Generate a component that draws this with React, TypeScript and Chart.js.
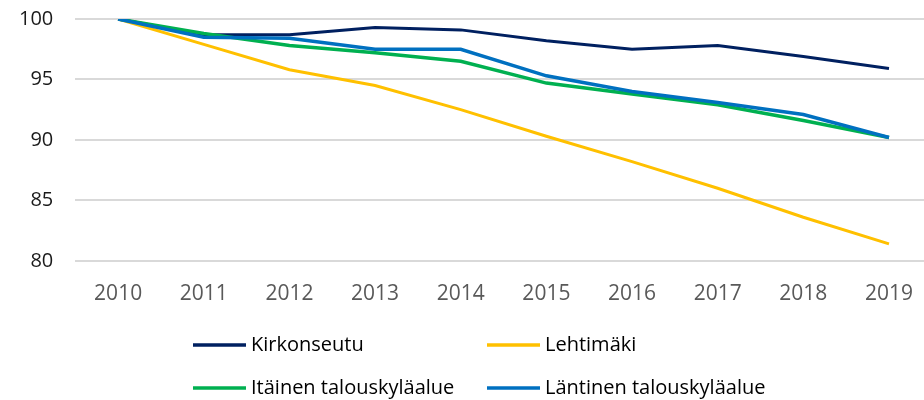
import React, { useEffect, useRef } from "react";
import { Chart, registerables } from "chart.js";

Chart.register(...registerables);

const years = ["2010", "2011", "2012", "2013", "2014", "2015", "2016", "2017", "2018", "2019"];
const kirkonseutu = [100, 98.7, 98.7, 99.3, 99.1, 98.2, 97.5, 97.8, 96.9, 95.9];
const lehtimaki = [100, 97.9, 95.8, 94.5, 92.5, 90.3, 88.2, 86.0, 83.6, 81.4];
const itainen = [100, 98.8, 97.8, 97.2, 96.5, 94.7, 93.8, 92.9, 91.6, 90.2];
const lantinen = [100, 98.5, 98.4, 97.5, 97.5, 95.3, 94.0, 93.1, 92.1, 90.2];
const yTicks = [80, 85, 90, 95, 100];

const seriesNames = ["Kirkonseutu", "Lehtimäki", "Itäinen talouskyläalue", "Läntinen talouskyläalue"];
const seriesColors = ["#002060", "#FFC000", "#00B050", "#0070C0"];
const seriesWidths = [3, 3, 3.5, 3.5];

const FONT = "'Open Sans', sans-serif";

const gridLegend = {
  id: "gridLegend",
  afterDraw(chart: any) {
    const ctx = chart.ctx;
    const cols = [193, 487];
    const rows = [345, 388];
    ctx.save();
    ctx.font = `20px ${FONT}`;
    ctx.textBaseline = "middle";
    ctx.textAlign = "left";
    seriesNames.forEach((name, i) => {
      const x = cols[i % 2];
      const y = rows[Math.floor(i / 2)];
      ctx.strokeStyle = seriesColors[i];
      ctx.lineWidth = 3.5;
      ctx.beginPath();
      ctx.moveTo(x, y);
      ctx.lineTo(x + 53, y);
      ctx.stroke();
      ctx.fillStyle = "#000000";
      ctx.fillText(name, x + 58, y);
    });
    ctx.restore();
  },
};

export default function App() {
  const ref = useRef<HTMLCanvasElement | null>(null);
  useEffect(() => {
    if (!ref.current) return;
    const data = [kirkonseutu, lehtimaki, itainen, lantinen];
    const chart = new Chart(ref.current, {
      type: "line",
      data: {
        labels: years,
        datasets: data.map((d, i) => ({
          label: seriesNames[i],
          data: d,
          borderColor: seriesColors[i],
          backgroundColor: seriesColors[i],
          borderWidth: seriesWidths[i],
          pointRadius: 0,
          tension: 0,
          fill: false,
          order: 4 - i,
        })),
      },
      options: {
        responsive: false,
        animation: false,
        devicePixelRatio: 1,
        layout: { padding: { top: 19, left: -3, right: 0, bottom: 72 } },
        plugins: {
          legend: { display: false },
          tooltip: { enabled: false },
        },
        scales: {
          x: {
            offset: true,
            grid: { display: false, drawTicks: false },
            border: { display: false },
            ticks: { color: "#595959", font: { family: FONT, size: 21 }, padding: 21 },
          },
          y: {
            min: 80,
            max: 100,
            afterBuildTicks: (axis: any) => {
              axis.ticks = yTicks.map((v) => ({ value: v }));
            },
            afterFit: (axis: any) => {
              axis.paddingTop = 0;
              axis.paddingBottom = 0;
            },
            grid: { color: "#d9d9d9", lineWidth: 2, drawTicks: false },
            border: { display: false },
            ticks: { color: "#1a1a1a", font: { family: FONT, size: 20 }, padding: 22 },
          },
        },
      },
      plugins: [gridLegend],
    });
    return () => chart.destroy();
  }, []);
  return (
    <div style={{ position: "fixed", left: 0, top: 0, width: 924, height: 400, overflow: "hidden", background: "#fff" }}>
      <canvas ref={ref} width={934} height={400} style={{ display: "block" }} />
    </div>
  );
}
